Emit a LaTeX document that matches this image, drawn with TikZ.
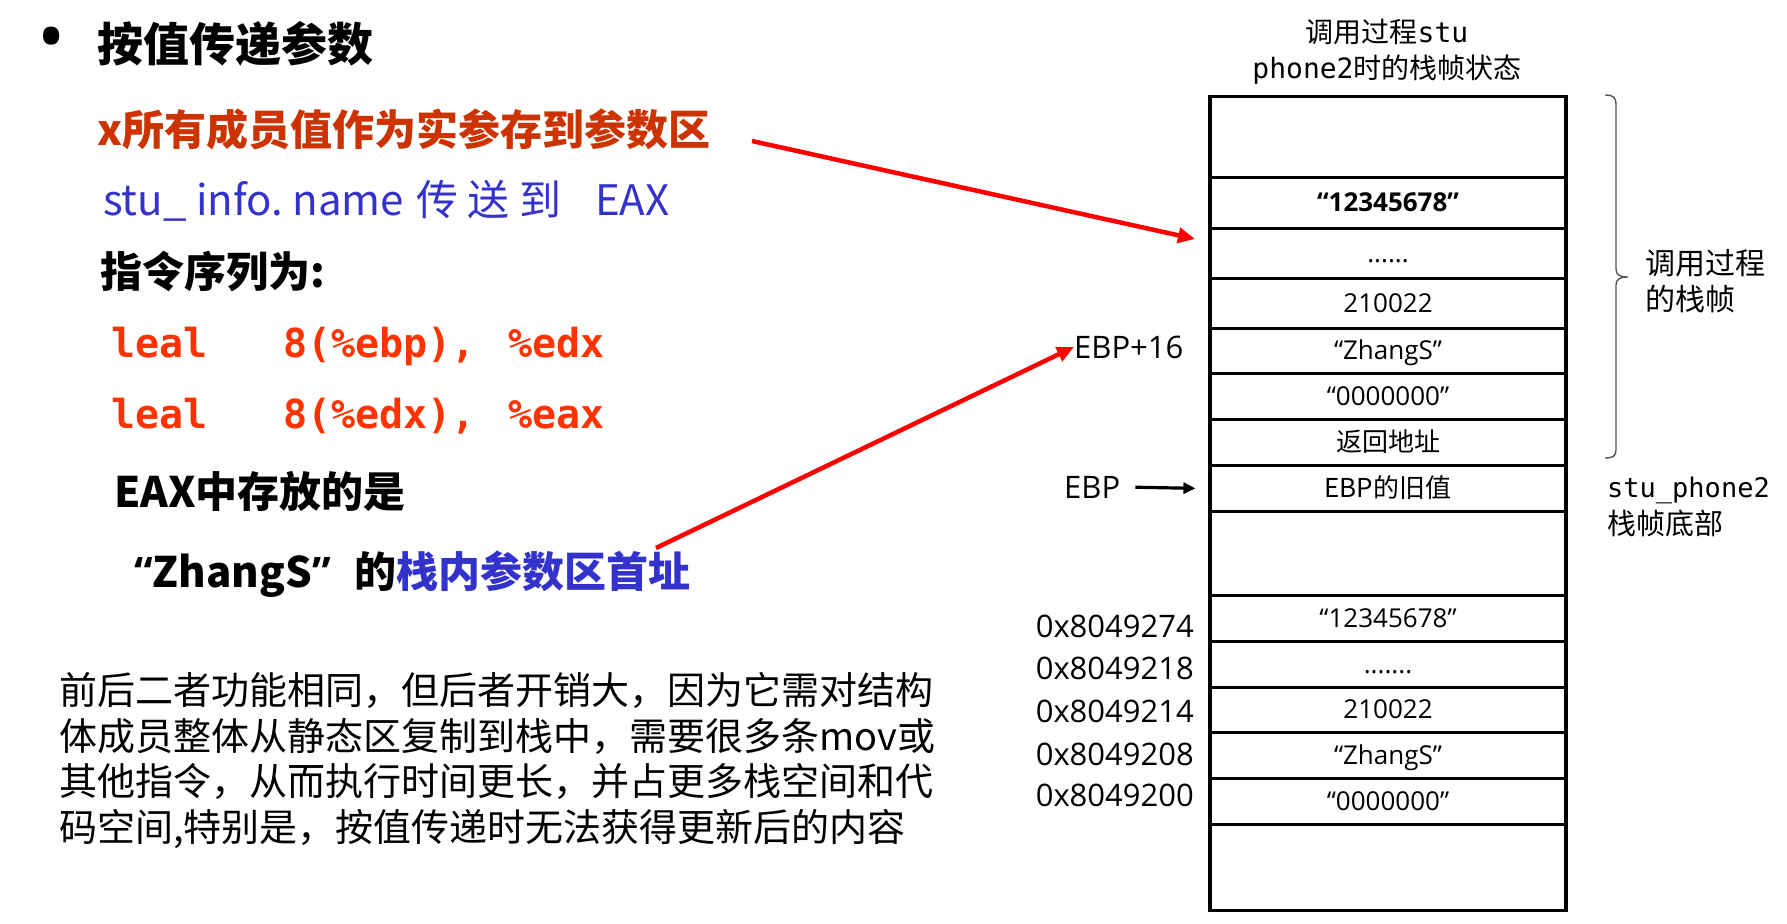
\documentclass[tikz,border=0pt]{standalone}
\usepackage{fontspec}
\newfontfamily\cjk{Noto Sans CJK SC}
\newfontfamily\lat{Open Sans}
\newfontfamily\mono{DejaVu Sans Mono}
\usetikzlibrary{arrows.meta}
\definecolor{headred}{RGB}{204,51,0}
\definecolor{textblue}{RGB}{51,51,204}
\definecolor{codered}{RGB}{255,51,0}
\definecolor{arrowred}{RGB}{255,0,0}
\definecolor{bracegray}{RGB}{85,85,85}
\newcommand\fsz[1]{\fontsize{#1}{#1}\selectfont}

\tikzset{
  txt/.style={inner sep=0pt, anchor=base west},
  cell/.style={draw, line width=3.2pt, minimum width=356pt, inner sep=0pt,
    anchor=north, text height=22pt, text depth=5pt, font=\lat\fsz{26}},
  cjkcell/.style={cell, font=\cjk\fsz{26}},
  sidelbl/.style={inner sep=0pt, font=\lat\fsz{31}},
  redarrow/.style={draw=arrowred, line width=4.5pt, -{Triangle[length=17pt,width=15pt]}},
  blackarrow/.style={draw=black, line width=3.2pt, -{Triangle[length=12pt,width=11pt]}}
}

\begin{document}
\begin{tikzpicture}[x=1pt,y=-1pt]
\fill[white] (0,0) rectangle (1787,923);
\useasboundingbox (0,0) rectangle (1787,923);

% ---- left column: explanation ----
\node[inner sep=0pt, font=\lat\fsz{75}] (bullet) at (52,45) {•};
\node[txt, font=\cjk\bfseries\fsz{46}] (title) at (97,62) {按值传递参数};
\node[txt, font=\cjk\bfseries\fsz{42}, text=headred] (copyline) at (97,145)
  {x所有成员值作为实参存到参数区};
\node[txt, font=\cjk\fsz{42}, text=textblue] (sendline) at (103,215)
  {\makebox[313pt][l]{stu\_ info.\ name}\makebox[51pt][l]{传}\makebox[52pt][l]{送}\makebox[76pt][l]{到}EAX};
\node[txt, font=\cjk\bfseries\fsz{42}] (seqline) at (100,287) {指令序列为:};
\node[txt, font=\mono\bfseries\fsz{40}, text=codered] (code1) at (111,357)
  {\makebox[172pt][l]{leal}\makebox[225pt][l]{8(\%ebp),}\%edx};
\node[txt, font=\mono\bfseries\fsz{40}, text=codered] (code2) at (111,428)
  {\makebox[172pt][l]{leal}\makebox[225pt][l]{8(\%edx),}\%eax};
\node[txt, font=\cjk\bfseries\fsz{42}] (eaxline) at (114,507) {EAX中存放的是};
\node[txt, font=\cjk\bfseries\fsz{42}] (addrline) at (134,587)
  {{\lat “}ZhangS{\lat ”}\hspace{24pt}的\textcolor{textblue}{栈内参数区首址}};

% ---- note paragraph ----
\node[txt, font=\cjk\fsz{38}] (note1) at (59,704) {前后二者功能相同，但后者开销大，因为它需对结构};
\node[txt, font=\cjk\fsz{38}] (note2) at (59,750) {体成员整体从静态区复制到栈中，需要很多条mov或};
\node[txt, font=\cjk\fsz{38}] (note3) at (59,795) {其他指令，从而执行时间更长，并占更多栈空间和代};
\node[txt, font=\cjk\fsz{38}] (note4) at (59,841) {码空间,特别是，按值传递时无法获得更新后的内容};

% ---- stack frame ----
\node[inner sep=0pt, anchor=base, font=\cjk\fsz{28}] (stackhead1) at (1387,43) {调用过程{\mono stu}};
\node[inner sep=0pt, anchor=base, font=\cjk\fsz{28}] (stackhead2) at (1387,79) {{\mono phone2}时的栈帧状态};

\node[cell, minimum height=81pt] (c1) at (1388,95) {};
\node[cell, minimum height=51pt, font=\lat\bfseries\fsz{26}] (c2) at (1388,176) {“12345678”};
\node[cell, minimum height=50pt] (c3) at (1388,227) {\vphantom{0}......};
\node[cell, minimum height=50pt] (c4) at (1388,277) {210022};
\node[cell, minimum height=45pt] (c5) at (1388,327) {“ZhangS”};
\node[cell, minimum height=46pt] (c6) at (1388,372) {“0000000”};
\node[cjkcell, minimum height=46pt] (c7) at (1388,418) {返回地址};
\node[cjkcell, minimum height=46pt] (c8) at (1388,464) {EBP的旧值};
\node[cell, minimum height=84pt] (c9) at (1388,510) {};
\node[cell, minimum height=46pt] (c10) at (1388,594) {“12345678”};
\node[cell, minimum height=46pt] (c11) at (1388,640) {\vphantom{0}.......};
\node[cell, minimum height=45pt] (c12) at (1388,686) {210022};
\node[cell, minimum height=46pt] (c13) at (1388,731) {“ZhangS”};
\node[cell, minimum height=46pt] (c14) at (1388,777) {“0000000”};
\node[cell, minimum height=86pt] (c15) at (1388,823) {};

% labels left of the stack
\node[sidelbl, anchor=base west] (ebp16) at (1074,358) {EBP+16};
\node[sidelbl, anchor=base west] (ebplbl) at (1064,498) {EBP};
\node[sidelbl, anchor=base east] (a274) at (1194,637) {0x8049274};
\node[sidelbl, anchor=base east] (a218) at (1194,679) {0x8049218};
\node[sidelbl, anchor=base east] (a214) at (1194,722) {0x8049214};
\node[sidelbl, anchor=base east] (a208) at (1194,765) {0x8049208};
\node[sidelbl, anchor=base east] (a200) at (1194,806) {0x8049200};

% closing brace over the callee frame, then the labels right of the stack
\draw[bracegray, line width=1.4pt]
  (1605,95) .. controls (1613,95) and (1616,97) .. (1616,105)
  -- (1616,269) .. controls (1616,275) and (1620,277) .. (1628,277)
  .. controls (1620,277) and (1616,279) .. (1616,285)
  -- (1616,450) .. controls (1616,456) and (1613,458) .. (1605,458);
\node[txt, font=\cjk\fsz{30}] (framelbl1) at (1645,274) {调用过程};
\node[txt, font=\cjk\fsz{30}] (framelbl2) at (1645,310) {的栈帧};
\node[txt, font=\mono\fsz{27}] (bottomlbl1) at (1607,497) {stu\_phone2};
\node[txt, font=\cjk\fsz{29}] (bottomlbl2) at (1607,534) {栈帧底部};

% ---- connectors ----
\draw[blackarrow, shorten <=15pt, shorten >=13pt] (ebplbl.east) -- (c8.west);
\coordinate (argsrc) at (752,141);
\coordinate (argtip) at (1195,239);
\draw[redarrow] (argsrc) -- (argtip);
\coordinate (basesrc) at (656,548);
\draw[redarrow] (basesrc) -- (ebp16.west);
\end{tikzpicture}
\end{document}
